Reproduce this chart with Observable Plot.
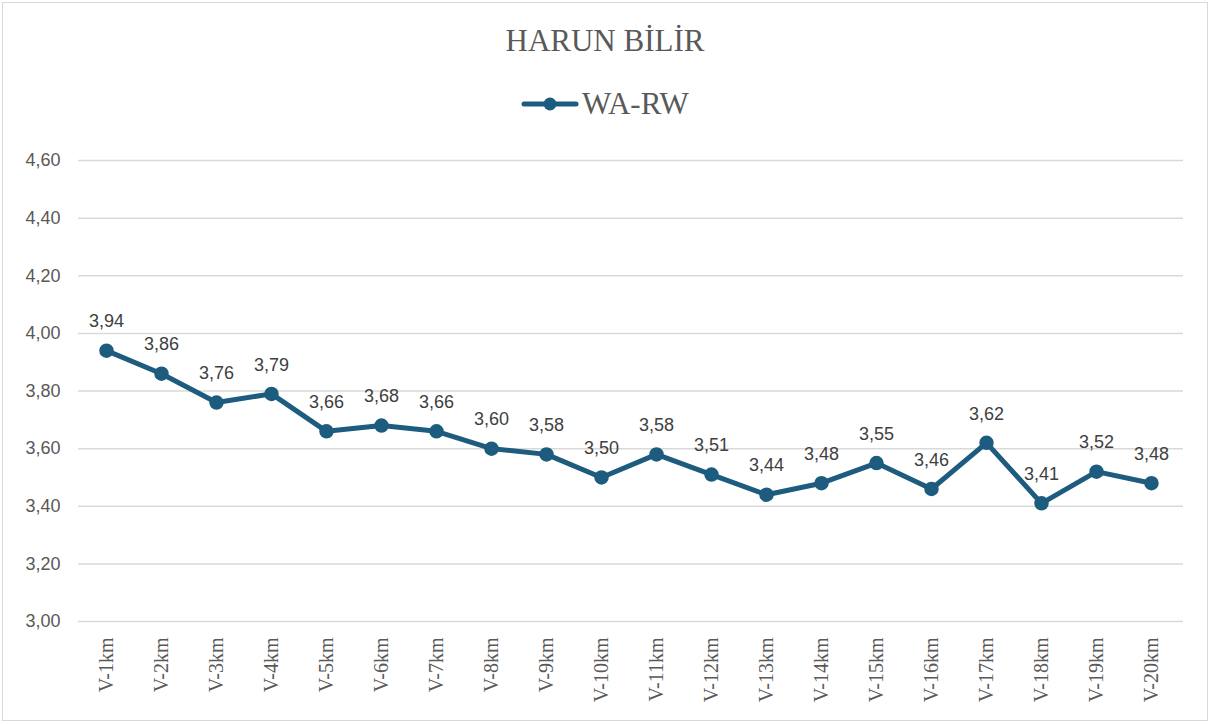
<!DOCTYPE html>
<html>
<head>
<meta charset="utf-8">
<script src="https://cdn.jsdelivr.net/npm/d3@7"></script>
<script src="https://cdn.jsdelivr.net/npm/@observablehq/plot@0.6"></script>
<style>
  html, body { margin: 0; padding: 0; background: #fff; }
  #frame { position: absolute; left: 2px; top: 2px; width: 1206px; height: 719px; border: 1px solid #d9d9d9; box-sizing: border-box; }
  #title { position: absolute; left: 0; top: 21px; width: 1210px; text-align: center; font-family: "Liberation Serif", serif; font-size: 31px; color: #595959; line-height: 40px; }
  #legend { position: absolute; left: 0; top: 84px; width: 1210px; display: flex; justify-content: center; align-items: center; font-family: "Liberation Serif", serif; font-size: 31px; color: #595959; line-height: 40px; }
  #legend svg { margin-right: 3px; }
  #chart { position: absolute; left: 0; top: 130px; }
</style>
</head>
<body>
<div id="frame"></div>
<div id="title">HARUN BİLİR</div>
<div id="legend"><svg width="58" height="20"><line x1="3" y1="10" x2="55" y2="10" stroke="#1d5c7e" stroke-width="5" stroke-linecap="round"/><circle cx="29" cy="10" r="6.5" fill="#1d5c7e"/></svg><span>WA-RW</span></div>
<div id="chart"></div>
<script>
const categories = ["V-1km","V-2km","V-3km","V-4km","V-5km","V-6km","V-7km","V-8km","V-9km","V-10km","V-11km","V-12km","V-13km","V-14km","V-15km","V-16km","V-17km","V-18km","V-19km","V-20km"];
const values = [3.94, 3.86, 3.76, 3.79, 3.66, 3.68, 3.66, 3.60, 3.58, 3.50, 3.58, 3.51, 3.44, 3.48, 3.55, 3.46, 3.62, 3.41, 3.52, 3.48];
const yTicks = [3.0, 3.2, 3.4, 3.6, 3.8, 4.0, 4.2, 4.4, 4.6];
const seriesName = "WA-RW";

const color = "#1d5c7e";
const fmt = d => d.toFixed(2).replace(".", ",");
const data = categories.map((c, i) => ({cat: c, v: values[i]}));

const chart = Plot.plot({
  width: 1210,
  height: 590,
  marginTop: 30,
  marginBottom: 99,
  marginLeft: 78,
  marginRight: 27,
  style: {background: "transparent", overflow: "visible"},
  x: {type: "point", domain: categories, padding: 0.5, range: [76, 1181], label: null},
  y: {domain: [3.0, 4.6], label: null},
  marks: [
    Plot.ruleY(yTicks, {stroke: "#d9d9d9", strokeWidth: 1.5}),
    Plot.axisY({ticks: yTicks, tickFormat: fmt, tickSize: 0, tickPadding: 18, fontSize: 18, fontFamily: "Liberation Sans, sans-serif", fill: "#595959", label: null}),
    Plot.axisX({tickRotate: -90, tickSize: 0, tickPadding: 16, fontSize: 20, fontFamily: "Liberation Serif, serif", fill: "#595959", label: null}),
    Plot.line(data, {x: "cat", y: "v", stroke: color, strokeWidth: 5, strokeLinejoin: "round", strokeLinecap: "round"}),
    Plot.dot(data, {x: "cat", y: "v", r: 6.5, fill: color, stroke: color}),
    Plot.text(data, {x: "cat", y: "v", text: d => fmt(d.v), dy: -29, fontSize: 18, fontFamily: "Liberation Sans, sans-serif", fill: "#404040"})
  ]
});
document.getElementById("chart").appendChild(chart);
</script>
</body>
</html>
